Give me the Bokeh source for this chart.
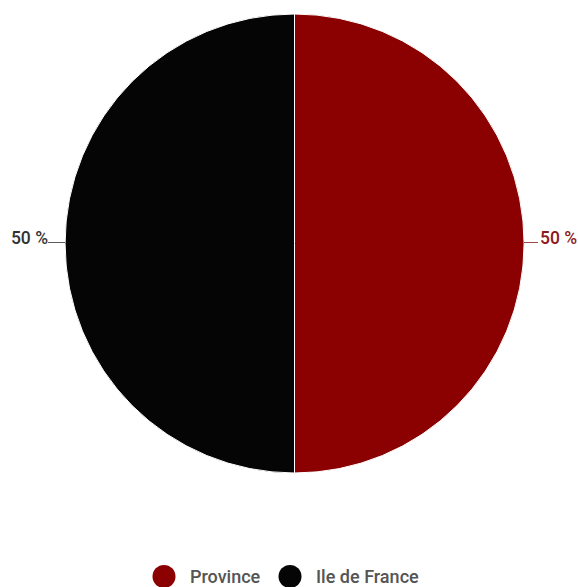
import numpy as np
from bokeh.plotting import figure
from bokeh.models import Range1d, ColumnDataSource
from bokeh.core.properties import value
from bokeh.embed import file_html
from bokeh.resources import INLINE

categories = ["Province", "Ile de France"]
values = [50, 50]
colors = ["#8b0000", "#050505"]
label_colors = ["#8b1a1a", "#333333"]

W, H = 578, 587
# data coords: x = image px, y = 587 - image px
p = figure(width=W, height=H, output_backend="svg", toolbar_location=None,
           x_range=Range1d(0, W), y_range=Range1d(0, H),
           min_border=0, outline_line_color=None)
p.axis.visible = False
p.grid.visible = False
p.background_fill_color = "white"
p.border_fill_color = "white"

FONT = value("Roboto Medium, Roboto")

cx, cy, r = 294, 587 - 243, 229.5
vals = np.array(values, dtype=float)
frac = vals / vals.sum()
cum = np.concatenate([[0], np.cumsum(frac)])
start = np.pi / 2 - cum[:-1] * 2 * np.pi
end = np.pi / 2 - cum[1:] * 2 * np.pi
mid = (start + end) / 2

src = ColumnDataSource(dict(start=start, end=end, color=colors))
p.wedge(x=cx, y=cy, radius=r, radius_units="screen", start_angle="start", end_angle="end",
        direction="clock", fill_color="color", line_color="white", line_width=1, source=src)

# labels
pct = [f"{round(f * 100)} %" for f in frac]
right = np.cos(mid) > 0
ext = np.where(right, 14, 17)
x0 = cx + r * np.cos(mid)
y0 = cy + r * np.sin(mid)
x1 = cx + (r + ext) * np.cos(mid)
y1 = y0
p.segment(x0=x0, y0=y0 + 1, x1=x1, y1=y1 + 1, line_color=label_colors, line_width=1.2, line_alpha=0.8)
align = ["left" if rt else "right" for rt in right]
tx = [x + (2 if rt else 0) for x, rt in zip(x1, right)]
p.text(x=tx, y=list(y1 + 6), text=pct, text_align=align, text_baseline="middle",
       text_color=label_colors, text_font=FONT, text_font_size="17.5px")

# legend
leg_y = 587 - 576
mx = [163.5, 289.5]
p.scatter(x=mx, y=[leg_y] * 2, size=23, marker="circle", fill_color=colors, line_color=None)
p.text(x=[m + 26 for m in mx], y=[leg_y] * 2, text=categories, text_baseline="middle",
       text_color="#555555", text_font=FONT, text_font_size="18px")

open("out.html", "w").write(file_html(p, INLINE))
